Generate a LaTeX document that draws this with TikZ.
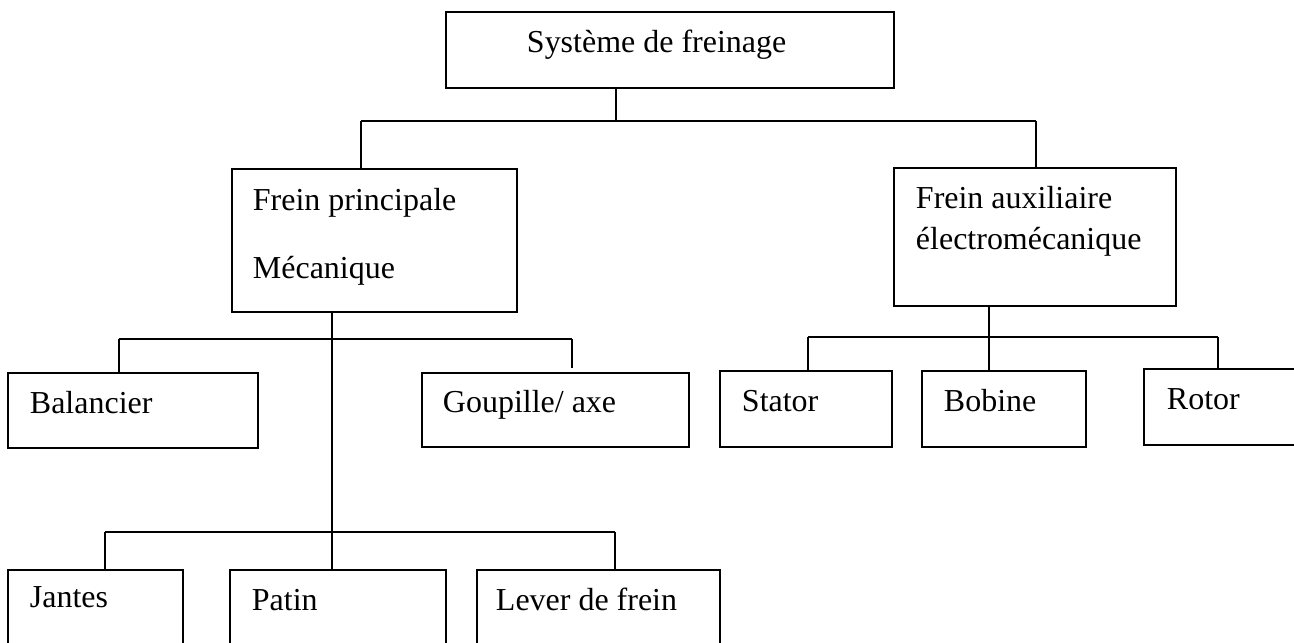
\documentclass[tikz,border=0pt]{standalone}
\usepackage{fontspec}
\setmainfont{Liberation Serif}
\usetikzlibrary{positioning,calc}

\begin{document}
\begin{tikzpicture}[x=0.02cm, y=-0.02cm, line width=1.1pt,
  box/.style={draw, rectangle, inner sep=0pt, outer sep=0pt},
  lbl/.style={anchor=base west, inner sep=0pt, font=\fontsize{18.2pt}{22pt}\selectfont}]
  \useasboundingbox (0,0) rectangle (1294,642);

  % boxes
  \node[box, minimum width=8.96cm, minimum height=1.52cm] (sys) at (670,50) {};
  \node[box, minimum width=5.70cm, minimum height=2.86cm] (fp) at (374.5,240.5) {};
  \node[box, minimum width=5.64cm, minimum height=2.76cm] (aux) at (1035,237) {};
  \node[box, minimum width=5.00cm, minimum height=1.50cm] (bal) at (133,410.5) {};
  \node[box, minimum width=5.34cm, minimum height=1.48cm] (gou) at (555.5,410) {};
  \node[box, minimum width=3.44cm, minimum height=1.52cm] (sta) at (806,409) {};
  \node[box, minimum width=3.28cm, minimum height=1.52cm] (bob) at (1004,409) {};
  \node[box, minimum width=3.72cm, minimum height=1.52cm] (rot) at (1237,407) {};
  \node[box, minimum width=3.50cm, minimum height=1.80cm] (jan) at (95.5,615) {};
  \node[box, minimum width=4.32cm, minimum height=1.80cm] (pat) at (338,615) {};
  \node[box, minimum width=4.86cm, minimum height=1.80cm] (lev) at (598.5,615) {};

  % texts
  \node[lbl] (sysT) at (526,53) {Système de freinage};
  \node[lbl] (fpT1) at (252,210) {Frein principale};
  \node[lbl] (fpT2) at (252,278) {Mécanique};
  \node[lbl] (auxT1) at (915,208) {Frein auxiliaire};
  \node[lbl] (auxT2) at (915,249) {électromécanique};
  \node[lbl] (balT) at (29,413) {Balancier};
  \node[lbl] (gouT) at (442,412) {Goupille/ axe};
  \node[lbl] (staT) at (741,411) {Stator};
  \node[lbl] (bobT) at (943,411) {Bobine};
  \node[lbl] (rotT) at (1166,409) {Rotor};
  \node[lbl] (janT) at (29,607) {Jantes};
  \node[lbl] (patT) at (251,610) {Patin};
  \node[lbl] (levT) at (495,610) {Lever de frein};

  % junctions
  \coordinate (j0) at (616,121);
  \coordinate (jl) at (361,121);
  \coordinate (jr) at (1036,121);
  \coordinate (k0) at (332,339);
  \coordinate (kl) at (119,339);
  \coordinate (kr) at (572,339);
  \coordinate (m0) at (332,532);
  \coordinate (ml) at (105,532);
  \coordinate (mr) at (615,532);
  \coordinate (a0) at (989,337);
  \coordinate (al) at (808,337);
  \coordinate (ar) at (1218,337);

  % connectors
  \draw (j0 |- sys.south) -- (j0);
  \draw (jl) -- (jr);
  \draw (jl) -- (jl |- fp.north);
  \draw (jr) -- (jr |- aux.north);

  \draw (k0 |- fp.south) -- (m0);
  \draw (kl) -- (kr);
  \draw (kl) -- (kl |- bal.north);
  \draw (kr) -- ++(0,29);
  \draw (ml) -- (mr);
  \draw (ml) -- (ml |- jan.north);
  \draw (m0) -- (m0 |- pat.north);
  \draw (mr) -- (mr |- lev.north);

  \draw (a0 |- aux.south) -- (a0);
  \draw (al) -- (ar);
  \draw (al) -- (al |- sta.north);
  \draw (a0) -- (a0 |- bob.north);
  \draw (ar) -- (ar |- rot.north);
\end{tikzpicture}
\end{document}
